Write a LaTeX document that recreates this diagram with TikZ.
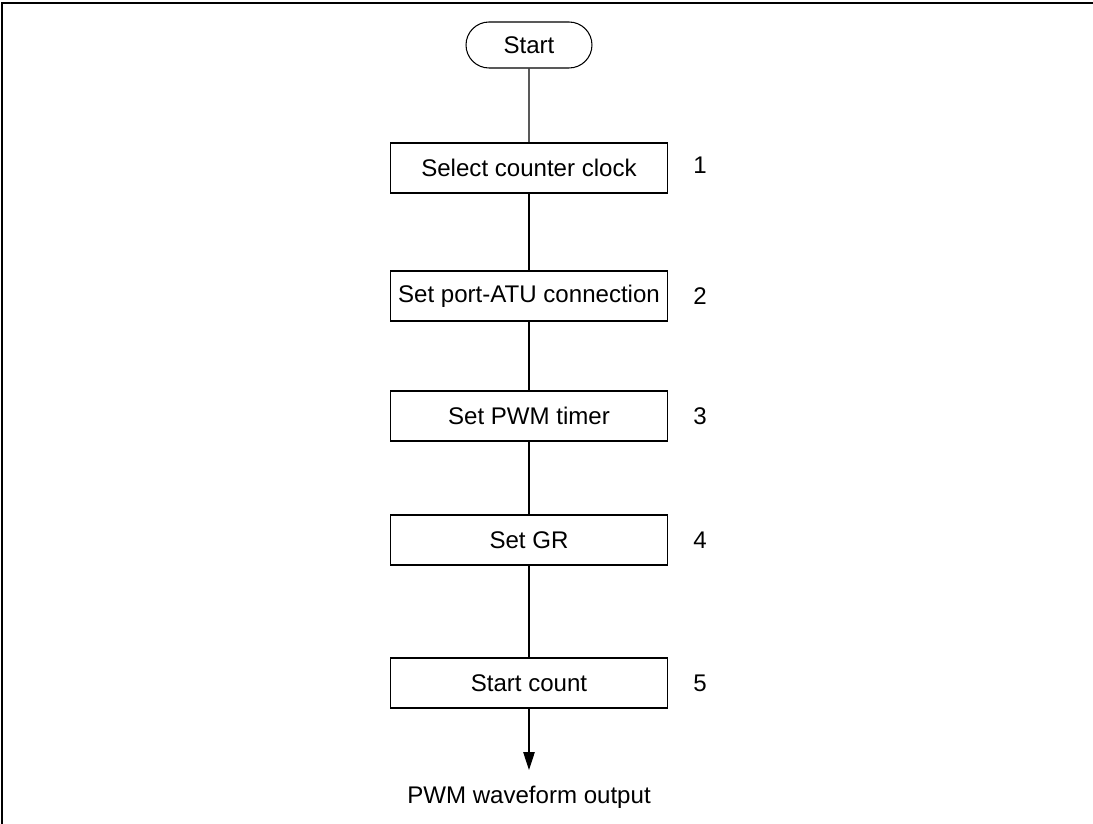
\documentclass[tikz,border=0pt]{standalone}
\usepackage{fontspec}
\setmainfont{Liberation Sans}
\usetikzlibrary{arrows.meta,positioning,shapes.misc}
\tikzset{box/.style={draw,line width=0.6pt,minimum width=5.54cm,minimum height=1cm,inner sep=1mm,font=\fontsize{13.7}{15}\selectfont}, term/.style={box,rounded rectangle,minimum width=2.72cm,minimum height=0.92cm}, num/.style={font=\fontsize{13.7}{15}\selectfont}, flow/.style={line width=0.6pt}, outflow/.style={flow,-{Triangle[length=3.6mm,width=2.3mm]}}}

\begin{document}
\begin{tikzpicture}[x=0.02cm,y=-0.02cm]
\useasboundingbox (0,0) rectangle (1093,824);
\draw[line width=1pt] (2,824) -- (2,3) -- (1093,3);
\node[term] (start) at (529,45) {Start};
\node[box] (s1) at (529,168) {Select counter clock};
\node[box] (s2) at (529,296) {Set port-ATU connection};
\node[box] (s3) at (529,416) {Set PWM timer};
\node[box] (s4) at (529,540) {Set GR};
\node[box] (s5) at (529,683) {Start count};
\node[num] (n1) at (700,165) {1};\node[num] (n2) at (700,296) {2};\node[num] (n3) at (700,416) {3};
\node[num] (n4) at (700,540) {4};\node[num] (n5) at (700,683) {5};
\node[num] (pwm) at (529,797) {PWM waveform output};
\coordinate (tip) at (529,770);
\draw[flow] (start)--(s1);\draw[flow] (s1)--(s2);\draw[flow] (s2)--(s3);\draw[flow] (s3)--(s4);\draw[flow] (s4)--(s5);
\draw[outflow] (s5)--(tip);
\end{tikzpicture}
\end{document}
